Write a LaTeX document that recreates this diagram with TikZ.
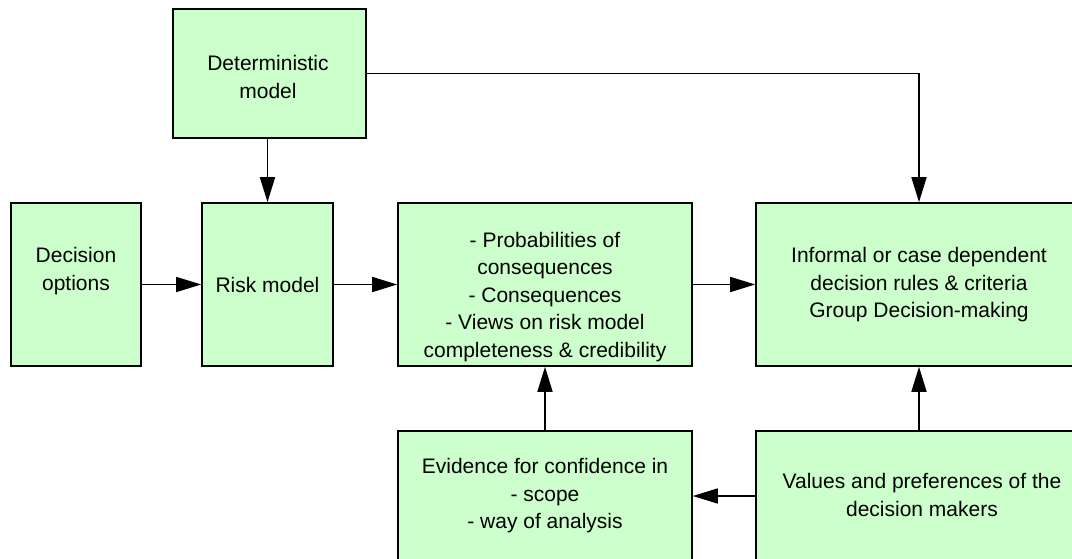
\documentclass[tikz,border=0pt]{standalone}
\usepackage{fontspec}
\setmainfont{Liberation Sans}
\usetikzlibrary{arrows.meta}
\definecolor{boxgreen}{RGB}{204,255,204}
\begin{document}
\begin{tikzpicture}[x=1pt,y=-1pt,
  box/.style={draw=black,fill=boxgreen,line width=1.6pt,rectangle,inner sep=0pt,minimum height=163pt},
  txt/.style={align=center,inner sep=0pt,font=\fontsize{21}{27.5}\selectfont},
  conn/.style={line width=1.6pt,-{Triangle[length=25pt,width=15pt]}}]
\useasboundingbox (0,0) rectangle (1072,559);
\clip (0,0) rectangle (1072,559);
\node[box,minimum width=193pt,minimum height=129pt] (det) at (269.5,73.5) {};
\node[box,minimum width=130pt] (dec) at (76,284.5) {};
\node[box,minimum width=131pt] (risk) at (267.5,284.5) {};
\node[box,minimum width=294pt] (mid) at (545,284.5) {};
\node[box,minimum width=326pt] (right) at (919,284.5) {};
\node[box,minimum width=294pt] (evid) at (545,512.5) {};
\node[box,minimum width=326pt] (vals) at (919,512.5) {};
\node[txt] (dett) at (268,77) {Deterministic\\model};
\node[txt] (dect) at (76,271) {Decision\\options};
\node[txt] (riskt) at (267.5,285) {Risk model};
\node[txt] (midt) at (545,297) {- Probabilities of\\consequences\\- Consequences\\- Views on risk model\\completeness \& credibility};
\node[txt] (rightt) at (919,285) {Informal or case dependent\\decision rules \& criteria\\Group Decision-making};
\node[txt] (evidt) at (545,496) {Evidence for confidence in\\- scope\\- way of analysis};
\node[txt] (valst) at (922,495) {Values and preferences of the\\decision makers};
\draw[conn] (dec.east) -- (risk.west);
\draw[conn] (risk.east) -- (mid.west);
\draw[conn] (mid.east) -- (right.west);
\draw[conn] (risk.north |- det.south) -- (risk.north);
\draw[conn] (det.east) -- (right.north |- det.east) -- (right.north);
\draw[conn] (evid.north) -- (mid.south);
\draw[conn] (vals.north) -- (right.south);
\draw[conn] ([yshift=16.5pt]vals.west) -- ([yshift=16.5pt]evid.east);
\end{tikzpicture}
\end{document}
